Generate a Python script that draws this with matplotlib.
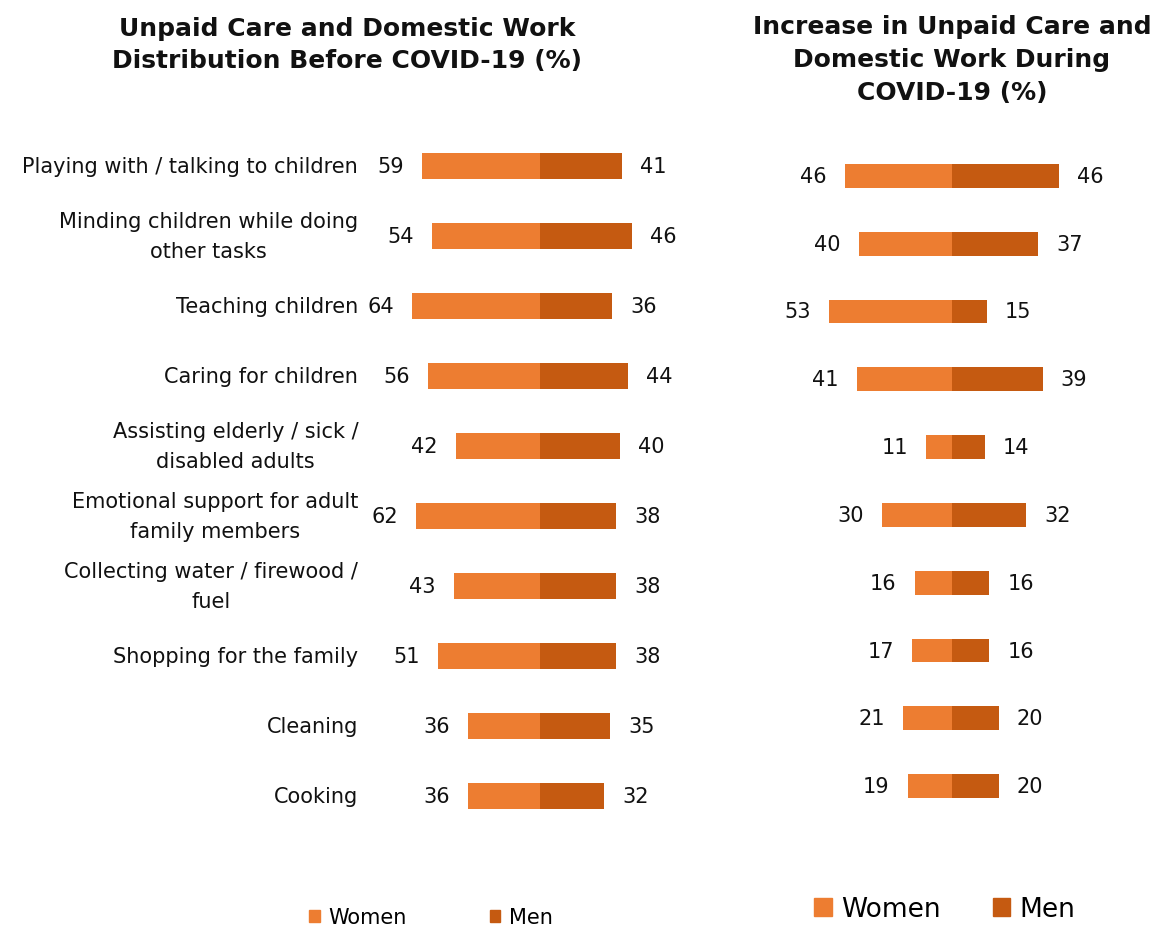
import matplotlib
matplotlib.use("Agg")
import matplotlib.pyplot as plt
from matplotlib.patches import Patch

# data
categories = [
    "Playing with / talking to children",
    "Minding children while doing\nother tasks",
    "Teaching children",
    "Caring for children",
    "Assisting elderly / sick /\ndisabled adults",
    "Emotional support for adult\nfamily members",
    "Collecting water / firewood /\nfuel",
    "Shopping for the family",
    "Cleaning",
    "Cooking",
]
before_women = [59, 54, 64, 56, 42, 62, 43, 51, 36, 36]
before_men = [41, 46, 36, 44, 40, 38, 38, 38, 35, 32]
during_women = [46, 40, 53, 41, 11, 30, 16, 17, 21, 19]
during_men = [46, 37, 15, 39, 14, 32, 16, 16, 20, 20]

WOMEN_COLOR = "#ED7D31"
MEN_COLOR = "#C55A11"
W, H = 1152, 929

plt.rcParams["font.family"] = "DejaVu Sans"
fig = plt.figure(figsize=(W / 100, H / 100), dpi=100)


def px_axes(left, top, right, bottom):
    """Axes from pixel box (origin top-left)."""
    return fig.add_axes([left / W, 1 - bottom / H, (right - left) / W, (bottom - top) / H])


def draw_panel(ax, women, men, half_range, bar_h, fs):
    y = list(range(len(women)))
    ax.barh(y, [-v for v in women], height=bar_h, color=WOMEN_COLOR, edgecolor="none")
    ax.barh(y, men, height=bar_h, color=MEN_COLOR, edgecolor="none")
    for yi, w, m in zip(y, women, men):
        ax.annotate(str(w), (-w, yi), xytext=(-13, 0), textcoords="offset points",
                    ha="right", va="center", fontsize=fs, color="#111111")
        ax.annotate(str(m), (m, yi), xytext=(13, 0), textcoords="offset points",
                    ha="left", va="center", fontsize=fs, color="#111111")
    ax.set_xlim(-half_range, half_range)
    ax.set_ylim(len(women) - 0.5, -0.5)
    ax.axis("off")


# left panel: before COVID-19
ax1 = px_axes(360, 132, 720, 832)
draw_panel(ax1, before_women, before_men, 90, 0.36, 15)
for yi, cat in enumerate(categories):
    ax1.text(-0.005, yi, cat, transform=ax1.get_yaxis_transform(), ha="right", va="center",
             multialignment="center", fontsize=15, color="#111111", linespacing=1.6)

# right panel: during COVID-19
ax2 = px_axes(752, 143, 1152, 821)
draw_panel(ax2, during_women, during_men, 86, 0.35, 15)

fig.text(347 / W, 1 - 45 / H, "Unpaid Care and Domestic Work\nDistribution Before COVID-19 (%)",
         ha="center", va="center", fontsize=18, fontweight="bold", color="#111111", linespacing=1.45)
fig.text(952 / W, 1 - 60 / H, "Increase in Unpaid Care and\nDomestic Work During\nCOVID-19 (%)",
         ha="center", va="center", fontsize=18, fontweight="bold", color="#111111", linespacing=1.45)

handles = [Patch(color=WOMEN_COLOR), Patch(color=MEN_COLOR)]
fig.legend(handles, ["Women", "Men"], loc="center", bbox_to_anchor=(431 / W, 1 - 918 / H),
           ncol=2, frameon=False, fontsize=15, handlelength=0.5, handleheight=0.5,
           handletextpad=0.4, columnspacing=4.0)
fig.legend(handles, ["Women", "Men"], loc="center", bbox_to_anchor=(945 / W, 1 - 910 / H),
           ncol=2, frameon=False, fontsize=19, handlelength=0.65, handleheight=0.65,
           handletextpad=0.35, columnspacing=2.0)

fig.savefig("out.png", dpi=100, facecolor="white")
